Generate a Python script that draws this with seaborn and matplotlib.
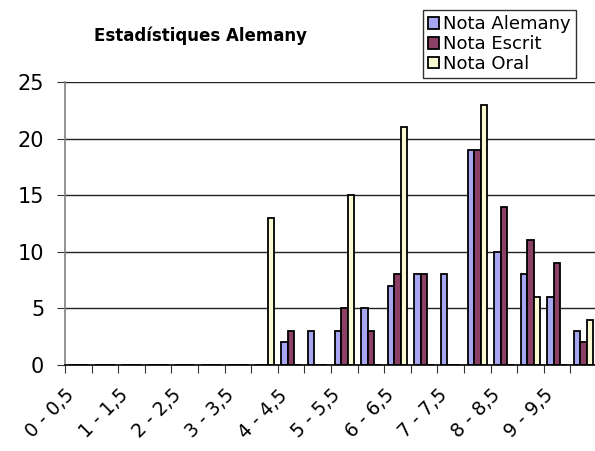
import matplotlib
matplotlib.use("Agg")
import matplotlib.pyplot as plt
import pandas as pd
import seaborn as sns

categories = ["0 - 0,5", "0,5 - 1", "1 - 1,5", "1,5 - 2", "2 - 2,5", "2,5 - 3",
              "3 - 3,5", "3,5 - 4", "4 - 4,5", "4,5 - 5", "5 - 5,5", "5,5 - 6",
              "6 - 6,5", "6,5 - 7", "7 - 7,5", "7,5 - 8", "8 - 8,5", "8,5 - 9",
              "9 - 9,5", "9,5 - 10"]
nota_alemany = [0, 0, 0, 0, 0, 0, 0, 0, 2, 3, 3, 5, 7, 8, 8, 19, 10, 8, 6, 3]
nota_escrit = [0, 0, 0, 0, 0, 0, 0, 0, 3, 0, 5, 3, 8, 8, 0, 19, 14, 11, 9, 2]
nota_oral = [0, 0, 0, 0, 0, 0, 0, 13, 0, 0, 15, 0, 21, 0, 0, 23, 0, 6, 0, 4]
series = ["Nota Alemany", "Nota Escrit", "Nota Oral"]
colors = ["#9999FF", "#993366", "#FFFFCC"]

df = pd.DataFrame({
    "interval": categories * 3,
    "serie": [s for s in series for _ in categories],
    "valor": nota_alemany + nota_escrit + nota_oral,
})

sns.set_style("white")
plt.rcParams["font.family"] = ["DejaVu Sans"]
plt.rcParams["text.color"] = "black"
plt.rcParams["xtick.color"] = "black"
plt.rcParams["ytick.color"] = "black"

fig = plt.figure(figsize=(5.95, 4.51), dpi=100)
ax = fig.add_axes([65 / 595, 86 / 451, 532 / 595, 283 / 451])

sns.barplot(data=df, x="interval", y="valor", hue="serie", order=categories,
            hue_order=series, palette=colors, width=0.73, gap=0,
            edgecolor="black", linewidth=1.3, ax=ax, legend=True)

ax.set_xlim(-0.5, len(categories) - 0.5)
ax.set_ylim(0, 25)
ax.set_yticks(range(0, 26, 5))
ax.tick_params(axis="y", labelsize=15, length=6, direction="out", color="#333333",
               labelcolor="black", left=True, pad=9)
ax.set_axisbelow(True)
ax.yaxis.grid(True, color="#222222", linewidth=1.0)

bounds = [i - 0.5 for i in range(len(categories))]
ax.set_xticks(bounds)
ax.set_xticklabels([c if i % 2 == 0 else "" for i, c in enumerate(categories)],
                   rotation=45, ha="right", rotation_mode="anchor", fontsize=13.5)
ax.tick_params(axis="x", length=6, direction="out", color="#333333", labelcolor="black",
               bottom=True, pad=9)
ax.set_xlabel("")
ax.set_ylabel("")

for side in ["top", "right"]:
    ax.spines[side].set_visible(False)
ax.spines["left"].set_color("#808080")
ax.spines["left"].set_linewidth(1.2)
ax.spines["bottom"].set_color("black")
ax.spines["bottom"].set_linewidth(1.2)

handles, labels = ax.get_legend_handles_labels()
ax.get_legend().remove()
leg = fig.legend(handles, labels, loc="upper left", bbox_to_anchor=(423 / 595, 1 - 10 / 451),
                 fontsize=13, frameon=True, fancybox=False, edgecolor="black",
                 handlelength=0.6, handleheight=0.6, handletextpad=0.2,
                 labelspacing=0.1, borderpad=0.3, borderaxespad=0)
leg.get_frame().set_linewidth(1.0)

fig.text(201 / 595, 1 - 36 / 451, "Estadístiques Alemany", ha="center", va="center",
         fontsize=12, fontweight="bold", color="black")

fig.savefig("out.png", dpi=100)
